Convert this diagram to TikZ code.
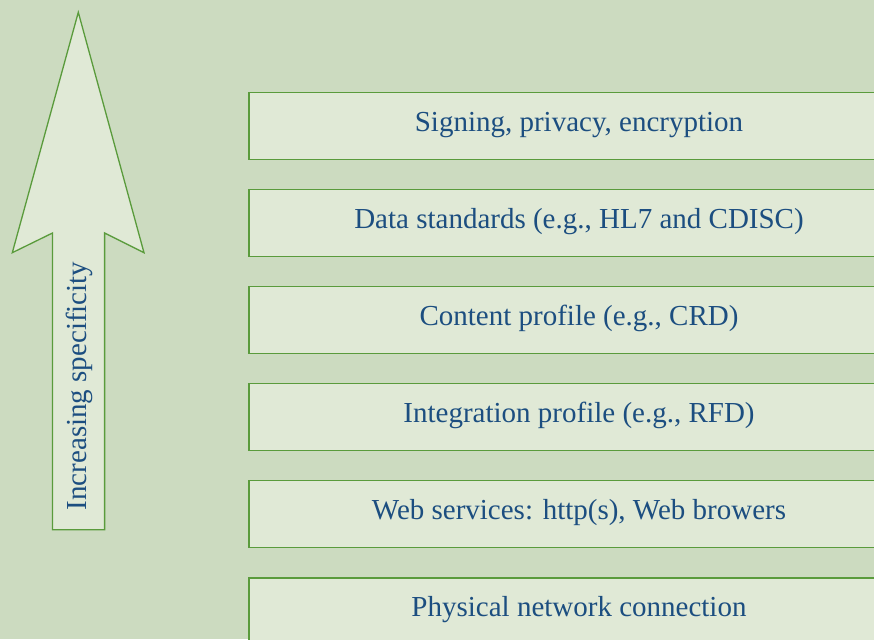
\documentclass[tikz,border=0pt]{standalone}
\usepackage{fontspec}
\setmainfont{Liberation Serif}
\definecolor{bgc}{HTML}{CCDBC0}
\definecolor{boxfill}{HTML}{E0E9D6}
\definecolor{boxline}{HTML}{5A9B3C}
\definecolor{txt}{HTML}{1C4E80}
\tikzset{
  layerbox/.style={draw=boxline, line width=1.4pt, fill=boxfill, rectangle,
    minimum width=660pt, minimum height=67pt, inner ysep=0pt,
    text height=22pt, text depth=11pt, text=txt,
    font=\fontsize{29}{32}\selectfont},
  arrowshape/.style={draw=boxline, line width=1.3pt, fill=boxfill, line join=miter},
  arrowtext/.style={rotate=90, text=txt, font=\fontsize{29}{32}\selectfont, inner sep=0pt}
}
\begin{document}
\begin{tikzpicture}[x=1pt, y=-1pt]
\useasboundingbox (0,0) rectangle (874,639);
\fill[bgc] (0,0) rectangle (874,639);
\clip (0,0) rectangle (874,639);
% arrow
\coordinate (tip) at (78.3,12.3);
\coordinate (hr) at (144,252.7);
\coordinate (ir) at (104.6,233);
\coordinate (br) at (104.6,529.7);
\coordinate (bl) at (52.5,529.7);
\coordinate (il) at (52.5,233);
\coordinate (hl) at (12.3,252.7);
\draw[arrowshape] (tip) -- (hr) -- (ir) -- (br) -- (bl) -- (il) -- (hl) -- cycle;
\node[arrowtext] (spec) at (79,386) {Increasing specificity};
% layers
\node[layerbox] (l1) at (579,125.8) {Signing, privacy, encryption};
\node[layerbox] (l2) at (579,222.9) {Data standards (e.g., HL7 and CDISC)};
\node[layerbox] (l3) at (579,320.0) {Content profile (e.g., CRD)};
\node[layerbox] (l4) at (579,417.1) {Integration profile (e.g., RFD)};
\node[layerbox] (l5) at (579,514.2) {Web services: http(s), Web browers};
\node[layerbox] (l6) at (579,611.3) {Physical network connection};
\end{tikzpicture}
\end{document}
